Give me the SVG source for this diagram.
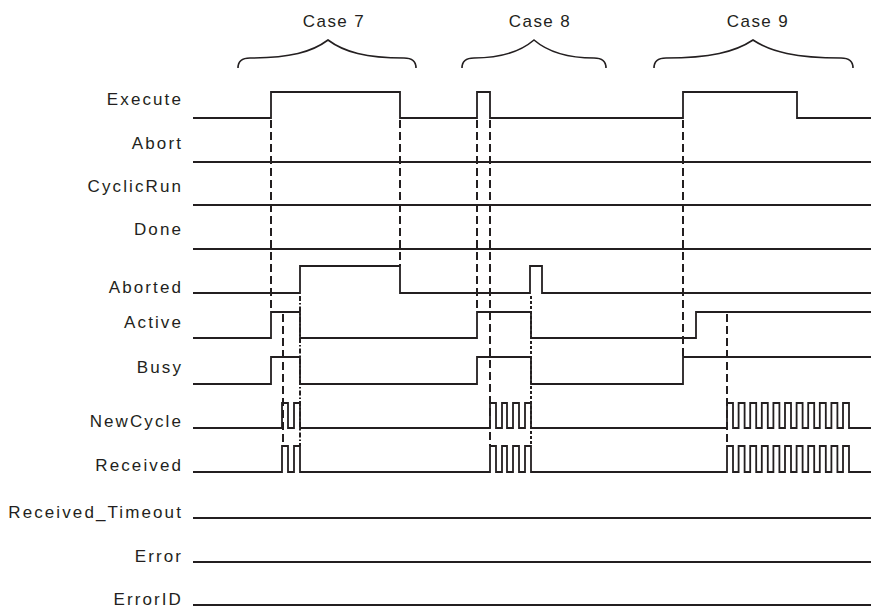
<svg xmlns="http://www.w3.org/2000/svg" width="884" height="610" viewBox="0 0 884 610">
<style>
text{font-family:"Liberation Sans",Arial,sans-serif;font-size:17px;fill:#231f20;letter-spacing:2.1px}
.lbl{text-anchor:end}
.cap{text-anchor:middle;letter-spacing:1.4px}
.sig{fill:none;stroke:#231f20;stroke-width:1.8;stroke-linejoin:miter}
.brace{fill:none;stroke:#231f20;stroke-width:1.6}
.dash{stroke:#231f20;stroke-width:2;stroke-dasharray:8,4;fill:none}
.dd{stroke:#231f20;stroke-width:2;stroke-dasharray:5,2,1.5,2;fill:none}
.dot{stroke:#231f20;stroke-width:2;stroke-dasharray:3,2;fill:none}
</style>
<rect width="884" height="610" fill="#fff"/>
<g id="case7">
<text class="cap" x="334" y="27">Case 7</text>
<path class="brace" d="M238,68 Q238,58 250,58 C290,58 312,52 328,40 C344,52 366,58 404,58 Q416,58 416,68"/>
</g>
<g id="case8">
<text class="cap" x="540" y="27">Case 8</text>
<path class="brace" d="M462,68 Q462,58 474,58 C500,58 520,52 534,40 C548,52 568,58 594,58 Q606,58 606,68"/>
</g>
<g id="case9">
<text class="cap" x="758" y="27">Case 9</text>
<path class="brace" d="M654,68 Q654,58 666,58 C710,58 735,52 753,40 C771,52 796,58 841,58 Q853,58 853,68"/>
</g>
<g id="execute"><text class="lbl" x="183" y="105">Execute</text>
<path class="sig" d="M193,118 H271 V92 H400 V118 H477 V92 H490 V118 H683 V92 H797 V118 H871"/></g>
<g id="abort"><text class="lbl" x="183" y="149">Abort</text>
<path class="sig" d="M193,162 H871"/></g>
<g id="cyclicrun"><text class="lbl" x="183" y="192">CyclicRun</text>
<path class="sig" d="M193,205 H871"/></g>
<g id="done"><text class="lbl" x="183" y="235">Done</text>
<path class="sig" d="M193,249 H871"/></g>
<g id="aborted"><text class="lbl" x="183" y="293">Aborted</text>
<path class="sig" d="M193,293 H300 V266 H400 V293 H530 V266 H542 V293 H871"/></g>
<g id="active"><text class="lbl" x="183" y="328">Active</text>
<path class="sig" d="M193,338 H271 V312 H300 V338 H477 V312 H531 V338 H696 V312 H871"/></g>
<g id="busy"><text class="lbl" x="183" y="373">Busy</text>
<path class="sig" d="M193,384 H271 V357 H300 V384 H477 V357 H531 V384 H683 V357 H871"/></g>
<g id="newcycle"><text class="lbl" x="183" y="427">NewCycle</text>
<path class="sig" d="M193,428 H282 V403 H288 V428 H294 V403 H300 V428 H490 V403 H496 V428 H502 V403 H507 V428 H513 V403 H519 V428 H525 V403 H531 V428 H727 V403 H733 V428 H738.6 V403 H744.6 V428 H750.2 V403 H756.2 V428 H761.8 V403 H767.8 V428 H773.4 V403 H779.4 V428 H785 V403 H791 V428 H796.6 V403 H802.6 V428 H808.2 V403 H814.2 V428 H819.8 V403 H825.8 V428 H831.4 V403 H837.4 V428 H843 V403 H849 V428 H871"/></g>
<g id="received"><text class="lbl" x="183" y="471">Received</text>
<path class="sig" d="M193,472 H282 V446 H288 V472 H294 V446 H300 V472 H490 V446 H496 V472 H502 V446 H507 V472 H513 V446 H519 V472 H525 V446 H531 V472 H727 V446 H733 V472 H738.6 V446 H744.6 V472 H750.2 V446 H756.2 V472 H761.8 V446 H767.8 V472 H773.4 V446 H779.4 V472 H785 V446 H791 V472 H796.6 V446 H802.6 V472 H808.2 V446 H814.2 V472 H819.8 V446 H825.8 V472 H831.4 V446 H837.4 V472 H843 V446 H849 V472 H871"/></g>
<g id="received_timeout"><text class="lbl" x="183" y="518">Received_Timeout</text>
<path class="sig" d="M193,518 H871"/></g>
<g id="error"><text class="lbl" x="183" y="562">Error</text>
<path class="sig" d="M193,562 H871"/></g>
<g id="errorid"><text class="lbl" x="183" y="605">ErrorID</text>
<path class="sig" d="M193,605 H871"/></g>
<g id="connectors">
<path class="dash" d="M271,120 V312"/>
<path class="dash" d="M400,120 V266"/>
<path class="dash" d="M283,314 V446"/>
<path class="dd" d="M300,296 V446"/>
<path class="dash" d="M477,120 V312"/>
<path class="dash" d="M490,120 V446"/>
<path class="dot" d="M531,296 V446"/>
<path class="dash" d="M683,120 V357"/>
<path class="dash" d="M727,314 V446"/>
</g>
</svg>
